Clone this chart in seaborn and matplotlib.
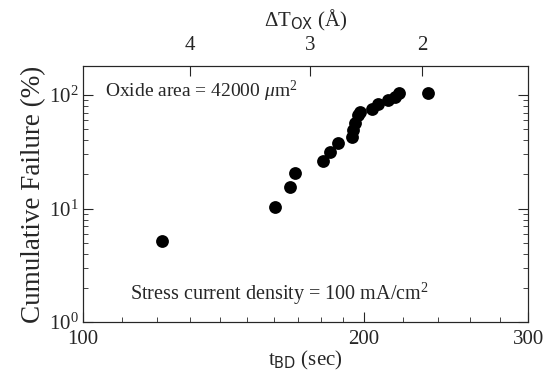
import numpy as np
import pandas as pd
import matplotlib
matplotlib.use("Agg")
import matplotlib.pyplot as plt
import matplotlib.ticker as mticker
import seaborn as sns

# Style
sns.set_style("ticks")
plt.rcParams['font.family'] = ['Liberation Serif', 'DejaVu Serif']
plt.rcParams['mathtext.fontset'] = 'custom'
plt.rcParams['mathtext.rm'] = 'Liberation Serif'
plt.rcParams['mathtext.it'] = 'Liberation Serif:italic'
plt.rcParams['mathtext.sf'] = 'DejaVu Sans'
plt.rcParams['xtick.direction'] = 'in'
plt.rcParams['ytick.direction'] = 'in'

# Data
t_bd = [121.5, 160.6, 166.7, 168.8, 180.8, 184, 187.7, 194.3, 194.8, 195.7,
        197, 198, 204, 207, 212, 216, 218, 234]
cum_fail = [5.2, 10.4, 15.6, 20.7, 26.4, 31.6, 37.9, 42.8, 49.3, 56.8,
            66.8, 71, 75.4, 83.4, 90.4, 96, 104, 104]
x_ticks = [100, 200, 300]
dtox_labels = ["4", "3", "2"]
dtox_tbd = [130, 175, 231]

df = pd.DataFrame({"t_bd": t_bd, "fail": cum_fail})

fig = plt.figure(figsize=(5.44, 3.78), dpi=100)
ax = fig.add_axes([0.153, 0.148, 0.818, 0.677])

sns.scatterplot(data=df, x="t_bd", y="fail", ax=ax, color="black",
                s=85, edgecolor="black", linewidth=0, legend=False)

ax.set_xscale("log")
ax.set_yscale("log")
ax.set_xlim(100, 300)
ax.set_ylim(1, 180)

ax.xaxis.set_major_locator(mticker.FixedLocator(x_ticks))
ax.xaxis.set_major_formatter(mticker.FixedFormatter([str(v) for v in x_ticks]))
ax.xaxis.set_minor_locator(mticker.FixedLocator(
    [110, 120, 130, 140, 150, 160, 170, 180, 190, 220, 240, 260, 280]))
ax.xaxis.set_minor_formatter(mticker.NullFormatter())
ax.yaxis.set_major_locator(mticker.LogLocator(base=10))
ax.yaxis.set_minor_locator(mticker.LogLocator(base=10, subs=np.arange(2, 10)))

ax.tick_params(which="major", length=7, width=0.8, labelsize=15, right=True)
ax.tick_params(which="minor", length=3.5, width=0.6, right=True)
ax.tick_params(axis="x", pad=6)

for sp in ax.spines.values():
    sp.set_linewidth(0.8)

ax.set_xlabel(r"t$_{\mathsf{BD}}$ (sec)", fontsize=15, labelpad=0)
ax.set_ylabel("Cumulative Failure (%)", fontsize=19.5, labelpad=2)

# top axis: oxide thickness change
ax2 = ax.twiny()
ax2.set_xscale("log")
ax2.set_xlim(ax.get_xlim())
ax2.xaxis.set_major_locator(mticker.FixedLocator(dtox_tbd))
ax2.xaxis.set_major_formatter(mticker.FixedFormatter(dtox_labels))
ax2.xaxis.set_minor_locator(mticker.NullLocator())
ax2.tick_params(which="major", length=7, width=0.8, labelsize=15, direction="in", pad=8)
ax2.set_xlabel(r"$\Delta$T$_{\mathsf{OX}}$ (Å)", fontsize=15, labelpad=7)

ax.text(0.05, 0.90, r"Oxide area = 42000 $\mu$m$^2$", transform=ax.transAxes,
        fontsize=14, va="center", ha="left")
ax.text(0.105, 0.11, r"Stress current density = 100 mA/cm$^2$", transform=ax.transAxes,
        fontsize=14.5, va="center", ha="left")

fig.savefig("out.png", dpi=100)
plt.close(fig)
